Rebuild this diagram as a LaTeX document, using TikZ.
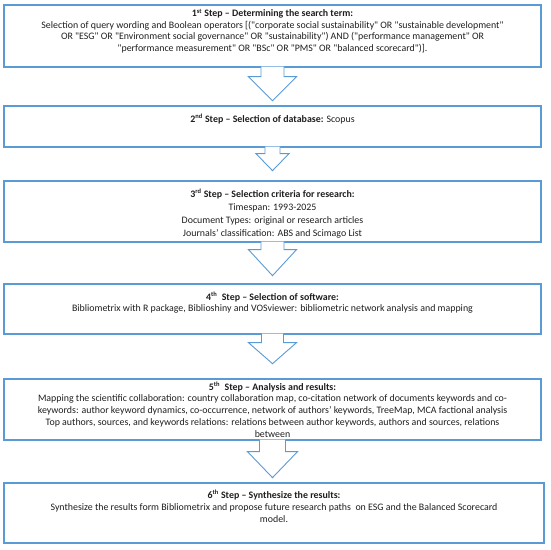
\documentclass[tikz,border=0pt]{standalone}
\usepackage{fontspec}
\setmainfont{Carlito}[Ligatures=TeXOff]
\usetikzlibrary{calc}
\definecolor{stepblue}{RGB}{91,155,213}
\definecolor{steptextcol}{RGB}{30,30,30}
\tikzset{
  stepbox/.style={draw=stepblue, line width=1.3pt, minimum width=537pt, inner sep=0pt},
  steptext/.style={align=center, text=steptextcol, inner sep=0pt, font=\fontsize{9.9}{11.5}\selectfont},
  flow/.style={draw=stepblue, fill=white, line width=0.9pt}
}
% block arrow under a box: node, shaft half width, head half width, shaft length, head length
\newcommand{\flowarrow}[5]{%
  \path[flow] ($(#1.south)+(-#2,-1)$) -- ++(0,#4+1) -- ++(#2-#3,0)
    -- ++(#3,#5) -- ++(#3,-#5) -- ++(#2-#3,0) -- ++(0,-#4-1);
}
\newcommand{\ord}[1]{\textsuperscript{\fontsize{6.5}{6.5}\selectfont #1}}
\begin{document}
\begin{tikzpicture}[x=1pt,y=-1pt]
  \useasboundingbox (0,0) rectangle (550,550);
  % boxes
  \node[stepbox, minimum height=62pt] (b1) at (272.5,36) {};
  \node[stepbox, minimum height=41pt] (b2) at (272.5,126.5) {};
  \node[stepbox, minimum height=61pt] (b3) at (272.5,211.5) {};
  \node[stepbox, minimum height=50pt] (b4) at (272.5,309) {};
  \node[stepbox, minimum height=61pt] (b5) at (272.5,409.5) {};
  \node[stepbox, minimum height=60pt, minimum width=540pt] (b6) at (274,513) {};
  % texts
  \node[steptext, yshift=5pt] (t1) at (b1.center) {\textbf{1\ord{st} Step – Determining the search term:}\\
    Selection of query wording and Boolean operators [("corporate social sustainability" OR "sustainable development"\\
    OR "ESG" OR "Environment social governance" OR "sustainability") AND ("performance management" OR\\
    "performance measurement" OR "BSc" OR "PMS" OR "balanced scorecard")].};
  \node[steptext, yshift=7.5pt] (t2) at (b2.center) {\textbf{2\ord{nd} Step – Selection of database:} Scopus};
  \node[steptext, yshift=-2pt, font=\fontsize{9.9}{13}\selectfont] (t3) at (b3.center) {\textbf{3\ord{rd} Step – Selection criteria for research:}\\
    Timespan: 1993-2025\\
    Document Types: original or research articles\\
    Journals’ classification: ABS and Scimago List};
  \node[steptext, yshift=6pt] (t4) at (b4.center) {\textbf{4\ord{th}\ \ Step – Selection of software:}\\
    Bibliometrix with R package, Biblioshiny and VOSviewer: bibliometric network analysis and mapping};
  \node[steptext, font=\fontsize{9.9}{11.75}\selectfont] (t5) at (b5.center) {\textbf{5\ord{th}\ \ Step – Analysis and results:}\\
    Mapping the scientific collaboration: country collaboration map, co-citation network of documents keywords and co-\\
    keywords: author keyword dynamics, co-occurrence, network of authors’ keywords, TreeMap, MCA factional analysis\\
    Top authors, sources, and keywords relations: relations between author keywords, authors and sources, relations\\
    between};
  \node[steptext, yshift=7pt, font=\fontsize{9.9}{12}\selectfont] (t6) at (b6.center) {\textbf{6\ord{th} Step – Synthesize the results:}\\
    Synthesize the results form Bibliometrix and propose future research paths\ \ on ESG and the Balanced Scorecard\\
    model.};
  % arrows
  \flowarrow{b1}{11.5}{24}{9}{24}
  \flowarrow{b2}{7.5}{16.5}{6}{17}
  \flowarrow{b3}{11.5}{24}{7}{26}
  \flowarrow{b4}{11}{24}{8}{21}
  \flowarrow{b5}{13}{25}{11}{26}
\end{tikzpicture}
\end{document}
